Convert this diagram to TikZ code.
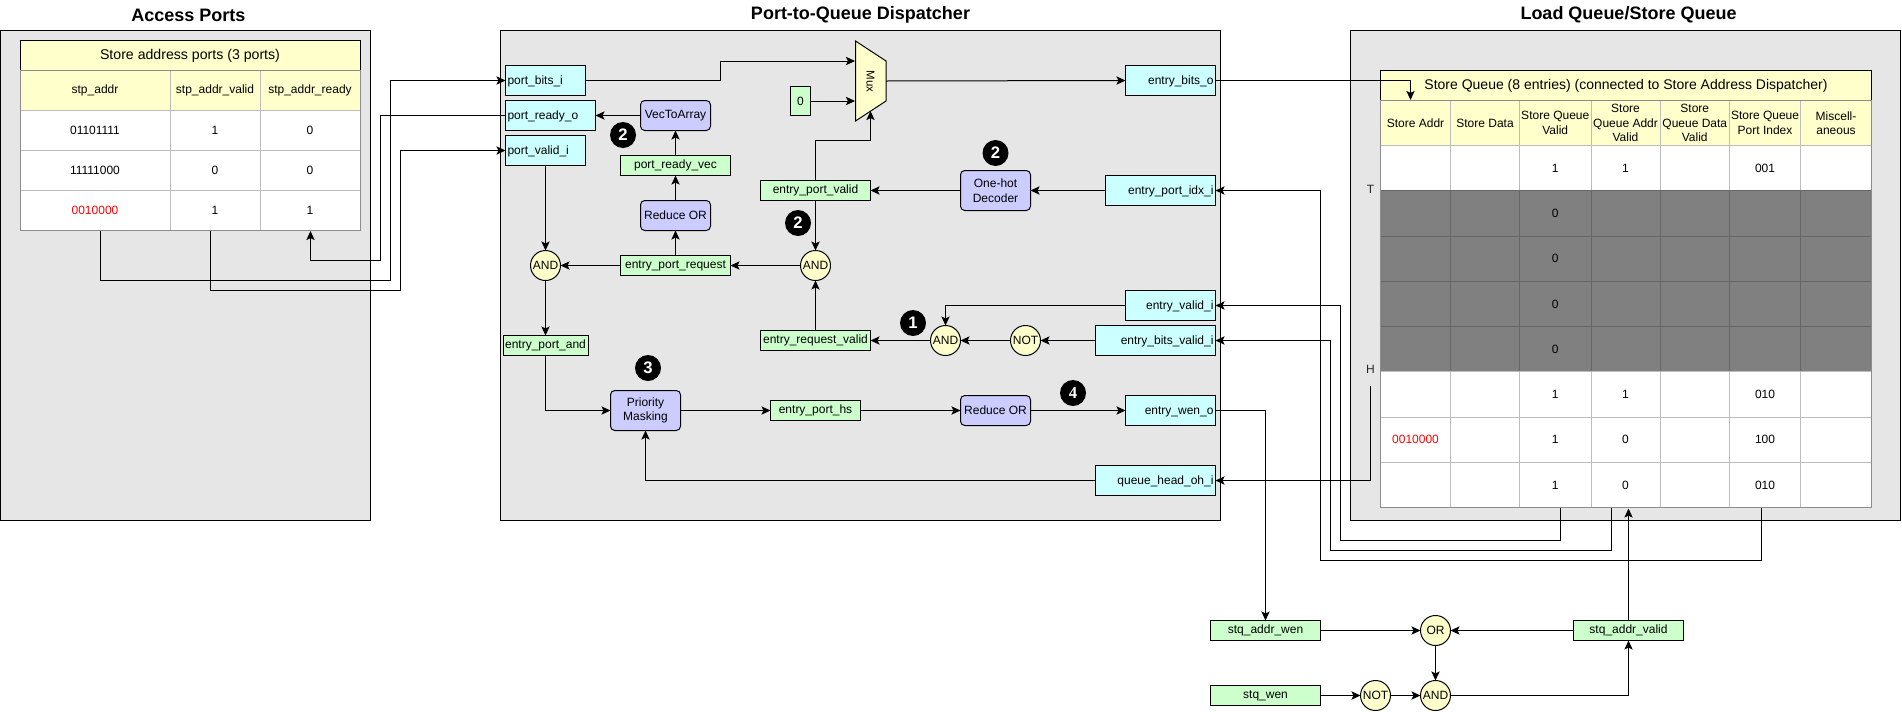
\documentclass[tikz,border=0pt]{standalone}
\usepackage{fontspec}
\setmainfont{Liberation Sans}
\newfontfamily\badgefourfont{Liberation Serif}
\usetikzlibrary{arrows.meta}
\definecolor{panelfill}{HTML}{E6E6E6}
\definecolor{cyanfill}{HTML}{CCFFFF}
\definecolor{greenfill}{HTML}{CCFFCC}
\definecolor{bluefill}{HTML}{CCCCFF}
\definecolor{yellowfill}{HTML}{FFFFCC}
\definecolor{cellline}{HTML}{BDBDBD}
\definecolor{tableline}{HTML}{8C8C8C}
\definecolor{greycell}{HTML}{808080}
\definecolor{greyline}{HTML}{666666}
\tikzset{
  x=0.75pt, y=-0.75pt,
  every node/.style={inner sep=0pt, outer sep=0pt, font=\fontsize{9}{10.9}\selectfont, align=center},
  panel/.style={draw=black, fill=panelfill, line width=0.75pt},
  paneltitle/.style={font=\fontsize{13.5}{16}\selectfont\bfseries},
  tabletitle/.style={draw=black, fill=yellowfill, line width=0.75pt, font=\fontsize{10.6}{12.6}\selectfont},
  widetitle/.style={tabletitle, font=\fontsize{10.5}{12.6}\selectfont},
  headcell/.style={draw=cellline, fill=yellowfill, line width=0.75pt},
  bodycell/.style={draw=cellline, fill=white, line width=0.75pt},
  darkcell/.style={draw=greyline, fill=greycell, line width=0.75pt},
  tableframe/.style={draw=tableline, line width=0.75pt},
  tablebase/.style={draw=tableline, line width=1.1pt},
  portbox/.style={draw=black, fill=cyanfill, line width=0.75pt},
  sigbox/.style={draw=black, fill=greenfill, line width=0.75pt},
  logicbox/.style={draw=black, fill=bluefill, line width=0.75pt, rounded corners=3.2pt},
  gate/.style={circle, draw=black, fill=yellowfill, line width=0.75pt, minimum size=22.5pt},
  badge/.style={circle, fill=black, text=white, minimum size=19.5pt, font=\fontsize{12.5}{14}\selectfont\bfseries},
  wire/.style={draw=black, line width=0.75pt, -{Stealth[length=6.8pt,width=6.2pt,inset=1.5pt]}},
  marklabel/.style={text=black!85},
}
% name, style, x1, y1, x2, y2, text
\newcommand{\bx}[7]{%
  \node[#2, minimum width={(#5-#3)*0.75pt}, minimum height={(#6-#4)*0.75pt}] (#1) at ({(#3+#5)/2},{(#4+#6)/2}) {#7};}
% as \bx but the text is flush left or right in the box
\newcommand{\tbx}[8]{%
  \node[#2, align=#8, inner xsep=1.5pt, text width={(#5-#3)*0.75pt-3pt}, text height=8pt, text depth=2pt, minimum height={(#6-#4)*0.75pt}] (#1) at ({(#3+#5)/2},{(#4+#6)/2}) {#7};}
% queue row: index, style, seven cell texts
\newcommand{\qrow}[9]{%
  \pgfmathsetmacro{\ya}{145.5+45.25*(#1-1)}%
  \pgfmathsetmacro{\yb}{145.5+45.25*#1}%
  \bx{q#1a}{#2}{1380.5}{\ya}{1450.5}{\yb}{#3}%
  \bx{q#1b}{#2}{1450.5}{\ya}{1519.5}{\yb}{#4}%
  \bx{q#1c}{#2}{1519.5}{\ya}{1591}{\yb}{#5}%
  \bx{q#1d}{#2}{1591}{\ya}{1660}{\yb}{#6}%
  \bx{q#1e}{#2}{1660}{\ya}{1729.5}{\yb}{#7}%
  \bx{q#1f}{#2}{1729.5}{\ya}{1800.5}{\yb}{#8}%
  \bx{q#1g}{#2}{1800.5}{\ya}{1871.5}{\yb}{#9}}
\begin{document}
\begin{tikzpicture}
\useasboundingbox (0,0) rectangle (1902,711);
% panels
\bx{panelA}{panel}{0.5}{30.5}{370.5}{520.5}{}
\bx{panelB}{panel}{500.5}{30.5}{1220.5}{520.5}{}
\bx{panelC}{panel}{1350.5}{30.5}{1900.5}{520.5}{}
\node[paneltitle] (titleA) at (188.5,15) {Access Ports};
\node[paneltitle] (titleB) at (860.5,15) {Port-to-Queue Dispatcher};
\node[paneltitle] (titleC) at (1628.5,15) {Load Queue/Store Queue};
% access port table
\bx{atitle}{tabletitle}{20}{40.5}{360}{70.5}{Store address ports (3 ports)}
\bx{ah1}{headcell}{20}{70.5}{170}{110.5}{stp\_addr}
\bx{ah2}{headcell}{170}{70.5}{260}{110.5}{stp\_addr\_valid}
\bx{ah3}{headcell}{260}{70.5}{360}{110.5}{stp\_addr\_ready}
\bx{a1a}{bodycell}{20}{110.5}{170}{150.5}{01101111}
\bx{a1b}{bodycell}{170}{110.5}{260}{150.5}{1}
\bx{a1c}{bodycell}{260}{110.5}{360}{150.5}{0}
\bx{a2a}{bodycell}{20}{150.5}{170}{190.5}{11111000}
\bx{a2b}{bodycell}{170}{150.5}{260}{190.5}{0}
\bx{a2c}{bodycell}{260}{150.5}{360}{190.5}{0}
\bx{a3a}{bodycell}{20}{190.5}{170}{230.5}{\textcolor{red}{0010000}}
\bx{a3b}{bodycell}{170}{190.5}{260}{230.5}{1}
\bx{a3c}{bodycell}{260}{190.5}{360}{230.5}{1}
\bx{aframe}{tableframe}{20}{70.5}{360}{230.5}{}
% queue table
\bx{qtitle}{widetitle}{1380.5}{70.5}{1871.5}{100.5}{Store Queue (8 entries) (connected to Store Address Dispatcher)}
\bx{qh1}{headcell}{1380.5}{100.5}{1450.5}{145.5}{Store Addr}
\bx{qh2}{headcell}{1450.5}{100.5}{1519.5}{145.5}{Store Data}
\bx{qh3}{headcell}{1519.5}{100.5}{1591}{145.5}{Store Queue\\Valid}
\bx{qh4}{headcell}{1591}{100.5}{1660}{145.5}{Store\\Queue Addr\\Valid}
\bx{qh5}{headcell}{1660}{100.5}{1729.5}{145.5}{Store\\Queue Data\\Valid}
\bx{qh6}{headcell}{1729.5}{100.5}{1800.5}{145.5}{Store Queue\\Port Index}
\bx{qh7}{headcell}{1800.5}{100.5}{1871.5}{145.5}{Miscell-\\aneous}
\qrow{1}{bodycell}{}{}{1}{1}{}{001}{}
\qrow{2}{darkcell}{}{}{0}{}{}{}{}
\qrow{3}{darkcell}{}{}{0}{}{}{}{}
\qrow{4}{darkcell}{}{}{0}{}{}{}{}
\qrow{5}{darkcell}{}{}{0}{}{}{}{}
\qrow{6}{bodycell}{}{}{1}{1}{}{010}{}
\qrow{7}{bodycell}{\textcolor{red}{0010000}}{}{1}{0}{}{100}{}
\qrow{8}{bodycell}{}{}{1}{0}{}{010}{}
\bx{qframe}{tableframe}{1380.5}{100.5}{1871.5}{507.5}{}
\coordinate (qBaseL) at (1380.5,507.5);
\coordinate (qBaseR) at (1871.5,507.5);
\draw[tablebase] (qBaseL) -- (qBaseR);
\node[marklabel] (markT) at (1370.5,189.5) {T};
\node[marklabel] (markH) at (1370.5,369.5) {H};
% dispatcher nodes
\tbx{pbits}{portbox}{505.5}{65.5}{585.5}{95.5}{port\_bits\_i}{left}
\tbx{pready}{portbox}{505.5}{100.5}{595.5}{130.5}{port\_ready\_o}{left}
\tbx{pvalid}{portbox}{505.5}{135.5}{585.5}{165.5}{port\_valid\_i}{left}
\bx{vecarr}{logicbox}{640.5}{100.5}{710.5}{130.5}{VecToArray}
\bx{readyvec}{sigbox}{620.5}{155.5}{730.5}{175.5}{port\_ready\_vec}
\bx{redorA}{logicbox}{640.5}{200.5}{710.5}{230.5}{Reduce OR}
\bx{request}{sigbox}{620.5}{255.5}{730.5}{275.5}{entry\_port\_request}
\node[gate] (andL) at (545.5,265.5) {AND};
\node[gate] (andM) at (815.5,265.5) {AND};
\node[gate] (andR) at (945.5,340.5) {AND};
\node[gate] (notR) at (1025.5,340.5) {NOT};
\bx{portvalid}{sigbox}{760.5}{180.5}{870.5}{200.5}{entry\_port\_valid}
\bx{reqvalid}{sigbox}{760.5}{330.5}{870.5}{350.5}{entry\_request\_valid}
\bx{portand}{sigbox}{503}{335.5}{588}{355.5}{entry\_port\_and}
\bx{zero}{sigbox}{790.5}{86.5}{810.5}{115.5}{0}
\draw[fill=yellowfill, draw=black, line width=0.75pt] (855.5,41) -- (886,61) -- (886,101) -- (855.5,121) -- cycle;
\node[rotate=-90, font=\fontsize{8.6}{10}\selectfont] (muxlabel) at (870.5,81.5) {Mux};
\coordinate (muxTop) at (855,61);
\coordinate (muxMid) at (855,101);
\coordinate (muxSel) at (870.5,111);
\coordinate (muxOut) at (886,81);
\tbx{bitsout}{portbox}{1125.5}{65.5}{1215.5}{95.5}{entry\_bits\_o}{right}
\bx{onehot}{logicbox}{960.5}{170.5}{1030.5}{210.5}{One-hot\\Decoder}
\tbx{idxin}{portbox}{1105.5}{175.5}{1215.5}{205.5}{entry\_port\_idx\_i}{right}
\tbx{validin}{portbox}{1125.5}{290.5}{1215.5}{320.5}{entry\_valid\_i}{right}
\tbx{bitsvalid}{portbox}{1095.5}{325.5}{1215.5}{355.5}{entry\_bits\_valid\_i}{right}
\bx{prio}{logicbox}{610.5}{390.5}{680.5}{430.5}{Priority\\Masking}
\bx{porths}{sigbox}{770.5}{400.5}{860.5}{420.5}{entry\_port\_hs}
\bx{redorB}{logicbox}{960.5}{395.5}{1030.5}{425.5}{Reduce OR}
\tbx{wenout}{portbox}{1125.5}{395.5}{1215.5}{425.5}{entry\_wen\_o}{right}
\tbx{headin}{portbox}{1095.5}{465.5}{1215.5}{495.5}{queue\_head\_oh\_i}{right}
% bottom logic
\bx{addrwen}{sigbox}{1210.5}{620.5}{1320.5}{640.5}{stq\_addr\_wen}
\bx{stqwen}{sigbox}{1210.5}{685.5}{1320.5}{705.5}{stq\_wen}
\bx{addrvalid}{sigbox}{1573.5}{620.5}{1683.5}{640.5}{stq\_addr\_valid}
\node[gate] (orS) at (1435.5,630.5) {OR};
\node[gate] (andS) at (1435.5,695.5) {AND};
\node[gate] (notS) at (1375.5,695.5) {NOT};
% badges
\node[badge] (b2a) at (623,135) {2};
\node[badge] (b2b) at (798,223) {2};
\node[badge] (b2c) at (995.5,153) {2};
\node[badge] (b1) at (913,323) {1};
\node[badge] (b3) at (648,368) {3};
\node[badge, font=\fontsize{12.5}{14}\selectfont\badgefourfont\bfseries] (b4) at (1073,393) {4};
% free ends on the tables
\coordinate (aAddr) at (100.5,230.5);
\coordinate (aValid) at (210.5,230.5);
\coordinate (aReady) at (310.5,231);
\coordinate (qEntry) at (1410.5,100);
\coordinate (qValidOut) at (1560.5,507.5);
\coordinate (qAddrOut) at (1611,507.5);
\coordinate (qPortOut) at (1761,507.5);
\coordinate (qAddrIn) at (1628.5,508.5);
\coordinate (qHead) at (1370.5,385.5);
% connectors: access ports
\draw[wire] (aAddr) |- (390.5,280.5) |- (pbits.west);
\draw[wire] (aValid) |- (400.5,290.5) |- (pvalid.west);
\draw[wire] (pready.west) -| (380.5,260.5) -| (aReady);
% connectors: dispatcher
\draw[wire] (pbits.east) -| (720.5,61) -- (muxTop);
\draw[wire] (zero.east) -- (muxMid);
\draw[wire] (portvalid.north) |- (870.5,140.5) -- (muxSel);
\draw[wire] (muxOut) -- (bitsout.west);
\draw[wire] (vecarr.west) -- (pready.east);
\draw[wire] (readyvec.north) -- (vecarr.south);
\draw[wire] (redorA.north) -- (readyvec.south);
\draw[wire] (request.north) -- (redorA.south);
\draw[wire] (request.west) -- (andL.east);
\draw[wire] (andM.west) -- (request.east);
\draw[wire] (pvalid.south) -- (andL.north);
\draw[wire] (andL.south) -- (portand.north);
\draw[wire] (portand.south) |- (prio.west);
\draw[wire] (prio.east) -- (porths.west);
\draw[wire] (porths.east) -- (redorB.west);
\draw[wire] (redorB.east) -- (wenout.west);
\draw[wire] (idxin.west) -- (onehot.east);
\draw[wire] (onehot.west) -- (portvalid.east);
\draw[wire] (portvalid.south) -- (andM.north);
\draw[wire] (reqvalid.north) -- (andM.south);
\draw[wire] (andR.west) -- (reqvalid.east);
\draw[wire] (notR.west) -- (andR.east);
\draw[wire] (bitsvalid.west) -- (notR.east);
\draw[wire] (validin.west) -| (andR.north);
\draw[wire] (headin.west) -| (prio.south);
% connectors: queue
\draw[wire] (bitsout.east) -| (qEntry);
\draw[wire] (qPortOut) |- (1320.5,560.5) |- (idxin.east);
\draw[wire] (qValidOut) |- (1340.5,540.5) |- (validin.east);
\draw[wire] (qAddrOut) |- (1330.5,550.5) |- (bitsvalid.east);
\draw[wire] (qHead) |- (headin.east);
\draw[wire] (wenout.east) -| (addrwen.north);
\draw[wire] (addrvalid.north) -- (qAddrIn);
\draw[wire] (addrwen.east) -- (orS.west);
\draw[wire] (addrvalid.west) -- (orS.east);
\draw[wire] (orS.south) -- (andS.north);
\draw[wire] (stqwen.east) -- (notS.west);
\draw[wire] (notS.east) -- (andS.west);
\draw[wire] (andS.east) -| (addrvalid.south);
\end{tikzpicture}
\end{document}
